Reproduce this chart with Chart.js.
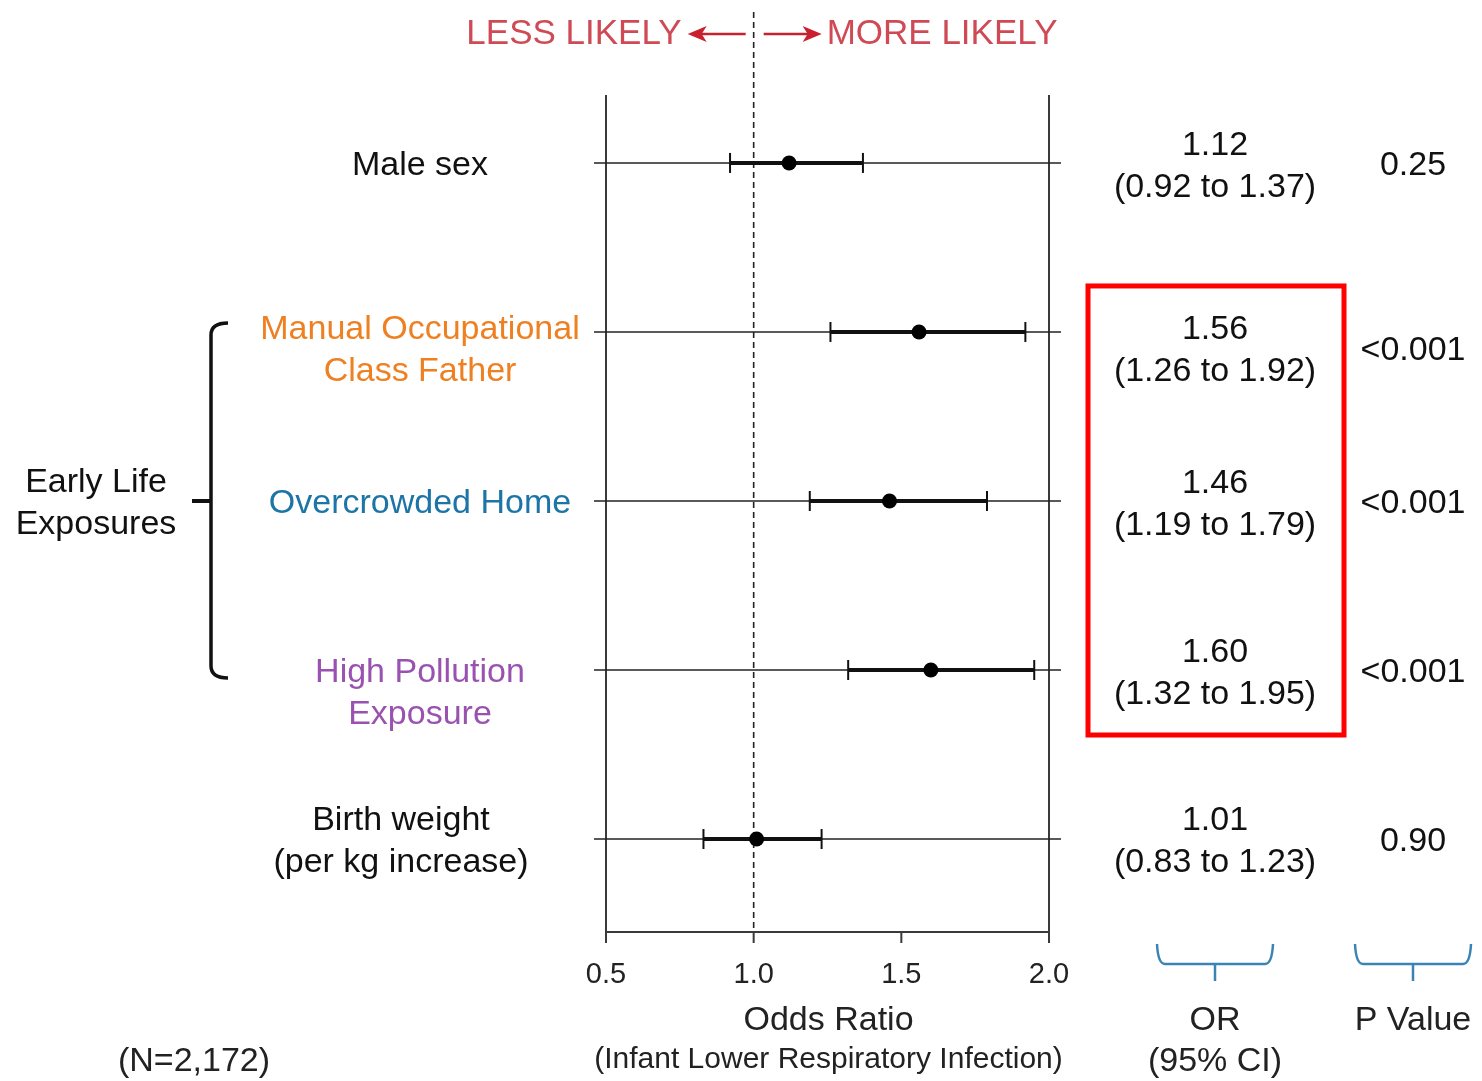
<!DOCTYPE html>
<html>
<head>
<meta charset="utf-8">
<script src="https://cdn.jsdelivr.net/npm/chart.js@4.4.0/dist/chart.umd.min.js"></script>
<style>
  html, body { margin: 0; padding: 0; background: #fff; }
  #wrap { width: 1482px; height: 1081px; }
</style>
</head>
<body>
<div id="wrap"><canvas id="forest" width="1482" height="1081"></canvas></div>
<script>
// data
var rowLabels = [["Male sex"], ["Manual Occupational", "Class Father"], ["Overcrowded Home"], ["High Pollution", "Exposure"], ["Birth weight", "(per kg increase)"]];
var oddsRatio = [1.12, 1.56, 1.46, 1.60, 1.01];
var ciLow = [0.92, 1.26, 1.19, 1.32, 0.83];
var ciHigh = [1.37, 1.92, 1.79, 1.95, 1.23];
var pValues = ["0.25", "<0.001", "<0.001", "<0.001", "0.90"];
var xTicks = [0.5, 1.0, 1.5, 2.0];
var groupRows = [1, 2, 3];   // "Early Life Exposures", also the boxed rows

// look
var FONT = '"Liberation Sans", Arial, Helvetica, sans-serif';
var labelColors = ["#111111", "#ef8022", "#1d74a6", "#9a52b0", "#111111"];
var labelX = [420, 420, 420, 420, 401];
var labelShift = [0, -5, 0, 0, -21];
var tableShift = [-20, -5, -20, -20, -21];
var pShift = [0, 16, 0, 0, 0];
var redText = "#cf4a55";
var redArrow = "#c8202e";
var braceBlue = "#3a84b5";
var orColX = 1215;
var pColX = 1413;

function txt(ctx, s, x, y, size, color, align) {
  ctx.font = size + "px " + FONT;
  ctx.fillStyle = color;
  ctx.textAlign = align || "center";
  ctx.textBaseline = "middle";
  ctx.fillText(s, x, y + 3);
}

function arrow(ctx, x1, x2, y, color) {
  var dir = x2 > x1 ? 1 : -1;
  ctx.strokeStyle = color;
  ctx.fillStyle = color;
  ctx.lineWidth = 2.5;
  ctx.beginPath();
  ctx.moveTo(x1, y);
  ctx.lineTo(x2 - dir * 10, y);
  ctx.stroke();
  ctx.beginPath();
  ctx.moveTo(x2, y);
  ctx.lineTo(x2 - dir * 19, y - 8);
  ctx.lineTo(x2 - dir * 14, y);
  ctx.lineTo(x2 - dir * 19, y + 8);
  ctx.closePath();
  ctx.fill();
}

function bottomBrace(ctx, cx) {
  ctx.strokeStyle = braceBlue;
  ctx.lineWidth = 2.5;
  ctx.beginPath();
  ctx.moveTo(cx - 58, 944);
  ctx.quadraticCurveTo(cx - 57, 964, cx - 50, 964);
  ctx.lineTo(cx + 50, 964);
  ctx.quadraticCurveTo(cx + 57, 964, cx + 58, 944);
  ctx.moveTo(cx, 964);
  ctx.lineTo(cx, 981);
  ctx.stroke();
}

var forestDecor = {
  id: "forestDecor",
  beforeDatasetsDraw: function(chart) {
    var ctx = chart.ctx, xs = chart.scales.x, ys = chart.scales.y, a = chart.chartArea;
    ctx.save();

    // frame: two verticals and the bottom axis with ticks
    ctx.strokeStyle = "#3a3a3a";
    ctx.lineWidth = 2;
    ctx.beginPath();
    ctx.moveTo(a.left, a.top); ctx.lineTo(a.left, a.bottom);
    ctx.moveTo(a.right, a.top); ctx.lineTo(a.right, a.bottom);
    ctx.moveTo(a.left, a.bottom); ctx.lineTo(a.right, a.bottom);
    xTicks.forEach(function(t) {
      var px = xs.getPixelForValue(t);
      ctx.moveTo(px, a.bottom); ctx.lineTo(px, a.bottom + 11);
    });
    ctx.stroke();

    xTicks.forEach(function(t) {
      txt(ctx, t.toFixed(1), xs.getPixelForValue(t), a.bottom + 40, 29, "#222");
    });

    // row lines
    ctx.strokeStyle = "#222";
    ctx.lineWidth = 1.5;
    oddsRatio.forEach(function(v, i) {
      var py = ys.getPixelForValue(i);
      ctx.beginPath();
      ctx.moveTo(a.left - 12, py); ctx.lineTo(a.right + 12, py);
      ctx.stroke();
    });

    // null line at OR = 1
    var x1 = xs.getPixelForValue(1.0);
    ctx.setLineDash([6, 4]);
    ctx.lineWidth = 1.6;
    ctx.strokeStyle = "#222";
    ctx.beginPath();
    ctx.moveTo(x1, 12); ctx.lineTo(x1, a.bottom);
    ctx.stroke();
    ctx.setLineDash([]);

    // CI caps
    ctx.strokeStyle = "#111";
    ctx.lineWidth = 2;
    oddsRatio.forEach(function(v, i) {
      var py = ys.getPixelForValue(i);
      [ciLow[i], ciHigh[i]].forEach(function(c) {
        var px = xs.getPixelForValue(c);
        ctx.beginPath();
        ctx.moveTo(px, py - 10); ctx.lineTo(px, py + 10);
        ctx.stroke();
      });
    });
    ctx.restore();
  },
  afterDraw: function(chart) {
    var ctx = chart.ctx, xs = chart.scales.x, ys = chart.scales.y, a = chart.chartArea;
    ctx.save();
    var x1 = xs.getPixelForValue(1.0);

    // header
    txt(ctx, "LESS LIKELY", x1 - 72, 31, 35, redText, "right");
    txt(ctx, "MORE LIKELY", x1 + 73, 31, 35, redText, "left");
    arrow(ctx, x1 - 8, x1 - 66, 34, redArrow);
    arrow(ctx, x1 + 10, x1 + 68, 34, redArrow);

    // row labels and table
    rowLabels.forEach(function(lines, i) {
      var py = ys.getPixelForValue(i);
      lines.forEach(function(s, k) {
        txt(ctx, s, labelX[i], py + labelShift[i] + k * 42, 34, labelColors[i]);
      });
      var top = py + tableShift[i];
      txt(ctx, oddsRatio[i].toFixed(2), orColX, top, 34, "#111");
      txt(ctx, "(" + ciLow[i].toFixed(2) + " to " + ciHigh[i].toFixed(2) + ")", orColX, top + 42, 34, "#111");
      txt(ctx, pValues[i], pColX, py + pShift[i], 34, "#111");
    });

    // group bracket
    var gTop = ys.getPixelForValue(groupRows[0]) - 9;
    var gBot = ys.getPixelForValue(groupRows[groupRows.length - 1]) + 8;
    var gMid = ys.getPixelForValue(groupRows[1]);
    ctx.strokeStyle = "#111";
    ctx.lineWidth = 3.5;
    ctx.beginPath();
    ctx.moveTo(228, gTop);
    ctx.quadraticCurveTo(211, gTop, 211, gTop + 12);
    ctx.lineTo(211, gBot - 12);
    ctx.quadraticCurveTo(211, gBot, 228, gBot);
    ctx.stroke();
    ctx.lineWidth = 4;
    ctx.beginPath();
    ctx.moveTo(192, gMid); ctx.lineTo(211, gMid);
    ctx.stroke();
    txt(ctx, "Early Life", 96, gMid - 21, 34, "#111");
    txt(ctx, "Exposures", 96, gMid + 21, 34, "#111");

    // highlight box
    var bTop = ys.getPixelForValue(groupRows[0]) - 46;
    var bBot = ys.getPixelForValue(groupRows[groupRows.length - 1]) + 65;
    ctx.strokeStyle = "#ff0000";
    ctx.lineWidth = 5;
    ctx.strokeRect(orColX - 127, bTop, 256, bBot - bTop);

    // footer
    txt(ctx, "Odds Ratio", (a.left + a.right) / 2 + 1, 1018, 34, "#222");
    txt(ctx, "(Infant Lower Respiratory Infection)", (a.left + a.right) / 2 + 1, 1057, 30, "#222");
    bottomBrace(ctx, orColX);
    bottomBrace(ctx, pColX);
    txt(ctx, "OR", orColX, 1018, 34, "#222");
    txt(ctx, "(95% CI)", orColX, 1059, 34, "#222");
    txt(ctx, "P Value", pColX, 1018, 34, "#222");
    txt(ctx, "(N=2,172)", 194, 1059, 34, "#222");
    ctx.restore();
  }
};

var datasets = [{
  label: "OR",
  data: oddsRatio.map(function(v, i) { return { x: v, y: i }; }),
  pointRadius: 7.5,
  pointBackgroundColor: "#000",
  pointBorderWidth: 0,
  showLine: false,
  order: 0,
  clip: false
}];
oddsRatio.forEach(function(v, i) {
  datasets.push({
    label: "CI " + i,
    type: "line",
    data: [{ x: ciLow[i], y: i }, { x: ciHigh[i], y: i }],
    borderColor: "#111",
    borderWidth: 4,
    pointRadius: 0,
    order: 1,
    clip: false
  });
});

new Chart("forest", {
  type: "scatter",
  data: { datasets: datasets },
  options: {
    responsive: false,
    animation: false,
    devicePixelRatio: 1,
    layout: { padding: { left: 606, right: 433, top: 95, bottom: 149 } },
    plugins: { legend: { display: false }, tooltip: { enabled: false } },
    scales: {
      x: { type: "linear", min: 0.5, max: 2.0, display: false },
      y: { type: "linear", min: -0.402, max: 4.55, reverse: true, display: false }
    }
  },
  plugins: [forestDecor]
});
</script>
</body>
</html>
